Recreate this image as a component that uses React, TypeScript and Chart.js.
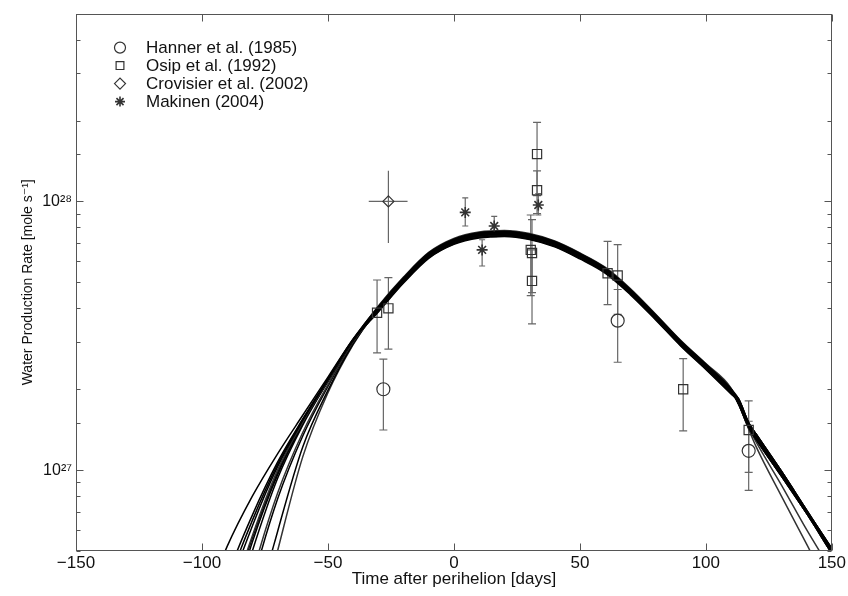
import React, { useEffect, useRef } from 'react';
import { Chart, registerables } from 'chart.js';
import { drawPoint } from 'chart.js/helpers';

Chart.register(...registerables);

// ---------- data (production rates in units of 1e27 mole/s) ----------
const T_GRID = [-100, -90, -80, -70, -60, -50, -40, -30, -20, -10, 0, 10, 20, 30, 40, 50, 60, 70, 80, 90, 100, 110, 113, 117, 120, 130, 140, 150, 160];

const MODEL_01 = [0.30, 0.52, 0.80, 1.15, 1.60, 2.22, 3.08, 4.06, 5.20, 6.43, 7.24, 7.65, 7.75, 7.55, 7.09, 6.40, 5.66, 4.71, 3.79, 3.03, 2.48, 2.01, 1.84, 1.50, 1.36, 0.99, 0.71, 0.51, 0.37];
const MODEL_02 = [0.20, 0.40, 0.68, 1.07, 1.55, 2.19, 3.07, 3.90, 5.00, 6.17, 6.96, 7.35, 7.45, 7.25, 6.81, 6.14, 5.44, 4.53, 3.65, 2.91, 2.38, 1.93, 1.80, 1.47, 1.33, 0.97, 0.70, 0.50, 0.36];
const MODEL_03 = [0.18, 0.37, 0.65, 1.05, 1.54, 2.18, 3.06, 4.02, 5.15, 6.36, 7.17, 7.58, 7.68, 7.47, 7.02, 6.33, 5.61, 4.67, 3.76, 3.00, 2.45, 1.99, 1.76, 1.44, 1.30, 0.95, 0.69, 0.49, 0.35];
const MODEL_04 = [0.16, 0.34, 0.62, 1.03, 1.53, 2.17, 3.05, 3.94, 5.05, 6.24, 7.03, 7.43, 7.52, 7.33, 6.88, 6.21, 5.49, 4.57, 3.68, 2.94, 2.41, 1.95, 1.84, 1.50, 1.36, 0.99, 0.71, 0.51, 0.37];
const MODEL_05 = [0.13, 0.29, 0.57, 1.00, 1.51, 2.16, 3.05, 4.08, 5.23, 6.46, 7.28, 7.69, 7.79, 7.59, 7.12, 6.43, 5.69, 4.74, 3.81, 3.04, 2.49, 2.02, 1.77, 1.42, 1.22, 0.80, 0.53, 0.35, 0.24];
const MODEL_06 = [0.12, 0.28, 0.56, 0.98, 1.50, 2.15, 3.04, 3.88, 4.97, 6.14, 6.92, 7.31, 7.41, 7.22, 6.78, 6.11, 5.41, 4.50, 3.63, 2.90, 2.37, 1.92, 1.80, 1.47, 1.33, 0.97, 0.70, 0.50, 0.36];
const MODEL_07 = [0.11, 0.26, 0.54, 0.96, 1.49, 2.15, 3.04, 3.98, 5.10, 6.30, 7.10, 7.50, 7.60, 7.40, 6.95, 6.27, 5.55, 4.62, 3.72, 2.97, 2.43, 1.97, 1.84, 1.50, 1.36, 0.99, 0.71, 0.51, 0.37];
const MODEL_08 = [0.10, 0.24, 0.50, 0.93, 1.47, 2.14, 3.03, 4.04, 5.18, 6.39, 7.21, 7.61, 7.71, 7.51, 7.05, 6.36, 5.63, 4.69, 3.78, 3.01, 2.47, 2.00, 1.76, 1.44, 1.30, 0.95, 0.69, 0.49, 0.35];
const MODEL_09 = [0.07, 0.18, 0.41, 0.82, 1.38, 2.08, 3.00, 3.92, 5.02, 6.21, 6.99, 7.39, 7.49, 7.29, 6.85, 6.18, 5.47, 4.55, 3.66, 2.93, 2.39, 1.94, 1.78, 1.44, 1.27, 0.88, 0.60, 0.42, 0.29];
const MODEL_10 = [0.06, 0.16, 0.38, 0.78, 1.34, 2.05, 2.98, 4.00, 5.13, 6.33, 7.14, 7.54, 7.64, 7.44, 6.98, 6.30, 5.58, 4.64, 3.74, 2.98, 2.44, 1.98, 1.80, 1.47, 1.33, 0.97, 0.70, 0.50, 0.36];
const MODEL_11 = [0.03, 0.09, 0.26, 0.59, 1.22, 1.98, 2.95, 3.96, 5.07, 6.27, 7.06, 7.46, 7.56, 7.36, 6.92, 6.24, 5.52, 4.60, 3.70, 2.96, 2.42, 1.96, 1.76, 1.44, 1.30, 0.95, 0.69, 0.49, 0.35];
const MODEL_12 = [0.02, 0.07, 0.21, 0.50, 1.12, 1.94, 2.93, 4.04, 5.18, 6.39, 7.21, 7.61, 7.71, 7.51, 7.05, 6.36, 5.63, 4.69, 3.78, 3.01, 2.47, 2.00, 1.80, 1.47, 1.33, 0.97, 0.70, 0.50, 0.36];

const MODELS = [MODEL_01, MODEL_02, MODEL_03, MODEL_04, MODEL_05, MODEL_06, MODEL_07, MODEL_08, MODEL_09, MODEL_10, MODEL_11, MODEL_12];

// Hanner et al. (1985)
const HANNER_T = [-28, 65, 117];
const HANNER_Q = [2.0, 3.6, 1.18];
const HANNER_LO = [1.41, 2.52, 0.84];
const HANNER_HI = [2.59, 4.7, 1.52];

// Osip et al. (1992)
const OSIP_T = [-30.5, -26, 30.5, 31, 31, 33, 33, 61, 65, 91, 117];
const OSIP_Q = [3.85, 4.0, 6.6, 6.43, 5.06, 11.0, 15.0, 5.4, 5.3, 2.0, 1.41];
const OSIP_LO = [2.73, 2.82, 4.46, 4.58, 3.5, 9.0, 10.5, 4.13, 3.8, 1.4, 0.98];
const OSIP_HI = [5.1, 5.2, 8.9, 8.55, 6.6, 13.0, 19.7, 7.1, 6.9, 2.6, 1.81];

// Crovisier et al. (2002)
const CROV_T = [-26];
const CROV_Q = [10.0];
const CROV_LO = [7.0];
const CROV_HI = [13.0];
const CROV_T_LO = [-33.8];
const CROV_T_HI = [-18.4];

// Makinen (2004)
const MAK_T = [4.5, 11.2, 16, 33.5];
const MAK_Q = [9.1, 6.6, 8.1, 9.7];
const MAK_LO = [8.1, 5.75, 7.4, 8.9];
const MAK_HI = [10.3, 7.2, 8.8, 10.7];

const X_TICKS = [-150, -100, -50, 0, 50, 100, 150];
const Y_LABELS: Record<string, string> = { '1': '10\u00B2\u2077', '10': '10\u00B2\u2078' };

const FONT = "'Liberation Sans', Arial, Helvetica, 'DejaVu Sans', sans-serif";
const AXIS_COLOR = '#555';
const BAR_COLOR = '#666';
const MARK_COLOR = '#333';

const pts = (xs: number[], ys: number[]) => xs.map((x, i) => ({ x, y: ys[i] }));

const errorBarPlugin = {
  id: 'errorBars',
  beforeDatasetsDraw(chart: any) {
    const { ctx, chartArea: ca, scales } = chart;
    const xs = scales.x, ys = scales.y;
    ctx.save();
    ctx.beginPath();
    ctx.rect(ca.left, ca.top, ca.right - ca.left, ca.bottom - ca.top);
    ctx.clip();
    ctx.strokeStyle = BAR_COLOR;
    ctx.lineWidth = 1.2;
    chart.data.datasets.forEach((ds: any) => {
      if (!ds.errLo) return;
      const cap = ds.capHalf;
      ds.data.forEach((p: any, i: number) => {
        const px = xs.getPixelForValue(p.x);
        const py = ys.getPixelForValue(p.y);
        const yl = ys.getPixelForValue(ds.errLo[i]);
        const yh = ys.getPixelForValue(ds.errHi[i]);
        ctx.beginPath();
        ctx.moveTo(px, yl);
        ctx.lineTo(px, yh);
        if (cap > 0) {
          ctx.moveTo(px - cap, yl); ctx.lineTo(px + cap, yl);
          ctx.moveTo(px - cap, yh); ctx.lineTo(px + cap, yh);
        }
        if (ds.xErrLo) {
          ctx.moveTo(xs.getPixelForValue(ds.xErrLo[i]), py);
          ctx.lineTo(xs.getPixelForValue(ds.xErrHi[i]), py);
        }
        ctx.stroke();
      });
    });
    ctx.restore();
  },
};

const frameLegendPlugin = {
  id: 'frameLegend',
  afterDraw(chart: any) {
    const { ctx, chartArea: ca, scales } = chart;
    const xs = scales.x, ys = scales.y;
    ctx.save();
    ctx.strokeStyle = AXIS_COLOR;
    ctx.lineWidth = 1;
    const L = Math.round(ca.left) + 0.5, R = Math.round(ca.right) - 0.5;
    const Tp = Math.round(ca.top) + 0.5, B = Math.round(ca.bottom) - 0.5;
    ctx.strokeRect(L, Tp, R - L, B - Tp);
    ctx.beginPath();
    xs.ticks.forEach((t: any) => {
      const px = Math.round(xs.getPixelForValue(t.value)) + 0.5;
      ctx.moveTo(px, B); ctx.lineTo(px, B - 7);
      ctx.moveTo(px, Tp); ctx.lineTo(px, Tp + 7);
    });
    ys.ticks.forEach((t: any) => {
      const lg = Math.log10(t.value);
      const major = Math.abs(lg - Math.round(lg)) < 1e-6;
      const len = major ? 7 : 4;
      const py = Math.round(ys.getPixelForValue(t.value)) + 0.5;
      ctx.moveTo(L, py); ctx.lineTo(L + len, py);
      ctx.moveTo(R, py); ctx.lineTo(R - len, py);
    });
    ctx.stroke();

    // legend
    const items = chart.data.datasets.filter((d: any) => d.inLegend);
    ctx.font = `17px ${FONT}`;
    ctx.textBaseline = 'middle';
    items.forEach((d: any, i: number) => {
      const y = ca.top + 34 + i * 18;
      const x = ca.left + 44;
      ctx.strokeStyle = MARK_COLOR;
      ctx.fillStyle = 'rgba(0,0,0,0)';
      ctx.lineWidth = d.pointBorderWidth;
      drawPoint(ctx, { pointStyle: d.pointStyle, radius: d.legendRadius, rotation: 0, borderWidth: d.pointBorderWidth }, x, y);
      ctx.fillStyle = '#111';
      ctx.fillText(d.label, ca.left + 70, y + 1);
    });
    ctx.restore();
  },
};

export default function App() {
  const ref = useRef<HTMLCanvasElement | null>(null);

  useEffect(() => {
    if (!ref.current) return;
    const modelSets = MODELS.map((m, k) => ({
      label: `model ${k + 1}`,
      data: pts(T_GRID, m),
      borderColor: k === 4 || k === 8 || k === 11 ? '#333' : '#000',
      borderWidth: 1.5,
      pointRadius: 0,
      cubicInterpolationMode: 'monotone',
      fill: false,
      order: 2,
    }));
    const markerBase = {
      showLine: false,
      backgroundColor: 'rgba(0,0,0,0)',
      borderColor: MARK_COLOR,
      pointBorderColor: MARK_COLOR,
      pointBackgroundColor: 'rgba(0,0,0,0)',
      pointBorderWidth: 1.2,
      inLegend: true,
      order: 1,
    };
    const chart = new Chart(ref.current, {
      type: 'line',
      data: {
        datasets: [
          ...modelSets,
          { ...markerBase, label: 'Hanner et al. (1985)', data: pts(HANNER_T, HANNER_Q), pointStyle: 'circle', pointRadius: 6.5, legendRadius: 5.5, errLo: HANNER_LO, errHi: HANNER_HI, capHalf: 4 },
          { ...markerBase, label: 'Osip et al. (1992)', data: pts(OSIP_T, OSIP_Q), pointStyle: 'rect', pointRadius: 6.5, legendRadius: 5.5, errLo: OSIP_LO, errHi: OSIP_HI, capHalf: 4 },
          { ...markerBase, label: 'Crovisier et al. (2002)', data: pts(CROV_T, CROV_Q), pointStyle: 'rectRot', pointRadius: 5.5, legendRadius: 5.5, errLo: CROV_LO, errHi: CROV_HI, xErrLo: CROV_T_LO, xErrHi: CROV_T_HI, capHalf: 0 },
          { ...markerBase, label: 'Makinen (2004)', data: pts(MAK_T, MAK_Q), pointStyle: 'star', pointRadius: 5.5, legendRadius: 5, pointBorderWidth: 1.6, errLo: MAK_LO, errHi: MAK_HI, capHalf: 3 },
        ] as any,
      },
      options: {
        animation: false,
        responsive: false,
        devicePixelRatio: 1,
        layout: { padding: { top: 8, right: 15, left: 0, bottom: 0 } },
        plugins: { legend: { display: false }, tooltip: { enabled: false } },
        scales: {
          x: {
            type: 'linear',
            min: -150,
            max: 150,
            afterBuildTicks: (s: any) => { s.ticks = X_TICKS.map((v) => ({ value: v })); },
            afterFit: (s: any) => { s.height = 45; },
            ticks: {
              font: { family: FONT, size: 17 },
              color: '#111',
              padding: 2,
              maxRotation: 0,
              autoSkip: false,
              callback: (v: any) => (v < 0 ? '\u2212' + Math.abs(v) : String(v)),
            },
            grid: { display: false, drawTicks: false },
            border: { display: false },
            title: {
              display: true,
              text: 'Time after perihelion [days]',
              font: { family: FONT, size: 17 },
              color: '#111',
              padding: { top: 0, bottom: 6 },
            },
          },
          y: {
            type: 'logarithmic',
            min: 0.5,
            max: 50,
            afterFit: (s: any) => { s.width = 76; },
            ticks: {
              font: { family: FONT, size: 16 },
              color: '#111',
              padding: 4,
              autoSkip: false,
              callback: (v: any) => Y_LABELS[String(v)] || '',
            },
            grid: { display: false, drawTicks: false },
            border: { display: false },
            title: {
              display: true,
              text: 'Water Production Rate [mole s\u207B\u00B9]',
              font: { family: FONT, size: 14 },
              color: '#111',
              padding: { top: 20, bottom: 0 },
            },
          },
        },
      } as any,
      plugins: [errorBarPlugin, frameLegendPlugin],
    });
    return () => chart.destroy();
  }, []);

  return (
    <div style={{ position: 'fixed', left: 0, top: 0, width: 848, height: 596, background: '#fff' }}>
      <canvas ref={ref} width={848} height={596} style={{ display: 'block' }} />
    </div>
  );
}
